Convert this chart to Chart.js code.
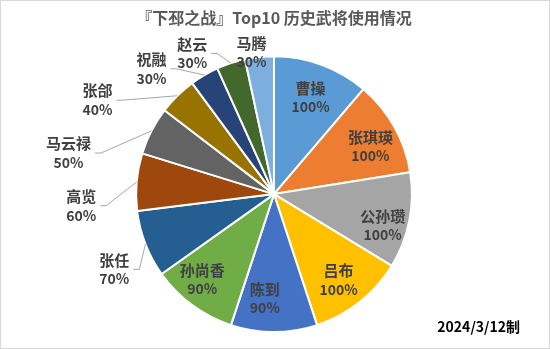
<!DOCTYPE html>
<html>
<head>
<meta charset="utf-8">
<script src="https://cdn.jsdelivr.net/npm/chart.js@4"></script>
<style>
  html, body { margin: 0; padding: 0; background: #fff; }
  #wrap { width: 550px; height: 349px; position: relative; }
</style>
</head>
<body>
<div id="wrap"><canvas id="pie"></canvas></div>
<script>
// --- Data ---
const generals = ['曹操', '张琪瑛', '公孙瓒', '吕布', '陈到', '孙尚香', '张任', '高览', '马云禄', '张郃', '祝融', '赵云', '马腾'];
const usageRate = [100, 100, 100, 100, 90, 90, 70, 60, 50, 40, 30, 30, 30];
const sliceColors = ['#5B9BD5', '#ED7D31', '#A5A5A5', '#FFC000', '#4472C4', '#70AD47',
                     '#255E91', '#9E480E', '#636363', '#997300', '#264478', '#43682B', '#7CAFDD'];
const titleText = '『下邳之战』Top10 历史武将使用情况';
const footText = '2024/3/12制';

// label placement: [radius factor, angle shift in degrees, leader line?]
const labelPlace = [
    [0.75, 0.5, false], [0.78, 3, false], [0.82, 5, false], [0.78, 1.5, false],
    [0.76, 5, false], [0.81, 3.6, false], [1.28, -4, true], [1.40, -8.5, true],
    [1.52, -16, true], [1.45, -17.5, true], [1.27, -14, true], [1.18, -12, true],
    [1.04, -3, false]
];

const FONT = '"Noto Sans CJK SC", "Noto Sans", sans-serif';

const labelPlugin = {
    id: 'pieLabels',
    beforeDraw(chart) {
        const ctx = chart.ctx;
        ctx.save();
        ctx.fillStyle = '#fff';
        ctx.fillRect(0, 0, chart.width, chart.height);
        ctx.restore();
    },
    afterDatasetsDraw(chart) {
        const ctx = chart.ctx;
        const arcs = chart.getDatasetMeta(0).data;
        ctx.save();
        arcs.forEach((arc, i) => {
            const p = arc.getProps(['x', 'y', 'startAngle', 'endAngle', 'outerRadius'], true);
            const [f, shift, leader] = labelPlace[i];
            const mid = (p.startAngle + p.endAngle) / 2;
            const a = mid + shift * Math.PI / 180;
            const cx = p.x + Math.cos(a) * p.outerRadius * f;
            const cy = p.y + Math.sin(a) * p.outerRadius * f;

            const name = chart.data.labels[i];
            const pct = usageRate[i] + '%';

            ctx.font = 'bold 15px ' + FONT;
            const w1 = ctx.measureText(name).width;
            ctx.font = 'bold 14px ' + FONT;
            const w2 = ctx.measureText(pct).width;
            const half = Math.max(w1, w2) / 2;

            if (leader) {
                const ex = p.x + Math.cos(mid) * p.outerRadius;
                const ey = p.y + Math.sin(mid) * p.outerRadius;
                const sx = cx + half + 4;
                ctx.strokeStyle = '#a6a6a6';
                ctx.lineWidth = 1;
                ctx.beginPath();
                ctx.moveTo(sx, cy);
                ctx.lineTo(sx + 6, cy);
                ctx.lineTo(ex, ey);
                ctx.stroke();
            }

            ctx.fillStyle = '#404040';
            ctx.textAlign = 'center';
            ctx.textBaseline = 'middle';
            ctx.font = 'bold 15px ' + FONT;
            ctx.fillText(name, cx, cy - 9.5);
            ctx.font = 'bold 14px ' + FONT;
            ctx.fillText(pct, cx, cy + 9.5);
        });

        // footer date
        ctx.font = 'bold 14px ' + FONT;
        ctx.fillStyle = '#000';
        ctx.textAlign = 'right';
        ctx.textBaseline = 'middle';
        ctx.fillText(footText, chart.width - 30, chart.height - 22);

        // outer border
        ctx.strokeStyle = '#d9d9d9';
        ctx.lineWidth = 1;
        ctx.strokeRect(0.5, 0.5, chart.width - 1, chart.height - 1);
        ctx.restore();
    }
};

new Chart(document.getElementById('pie'), {
    type: 'pie',
    data: {
        labels: generals,
        datasets: [{
            data: usageRate,
            backgroundColor: sliceColors,
            borderColor: '#ffffff',
            borderWidth: 2
        }]
    },
    options: {
        responsive: true,
        maintainAspectRatio: false,
        animation: false,
        layout: { padding: { top: 0, bottom: 16, left: 0, right: 2 } },
        plugins: {
            legend: { display: false },
            tooltip: { enabled: false },
            title: {
                display: true,
                text: titleText,
                color: '#595959',
                font: { family: FONT, size: 16, weight: 'bold' },
                padding: { top: 8, bottom: 28 }
            }
        }
    },
    plugins: [labelPlugin]
});
</script>
</body>
</html>
